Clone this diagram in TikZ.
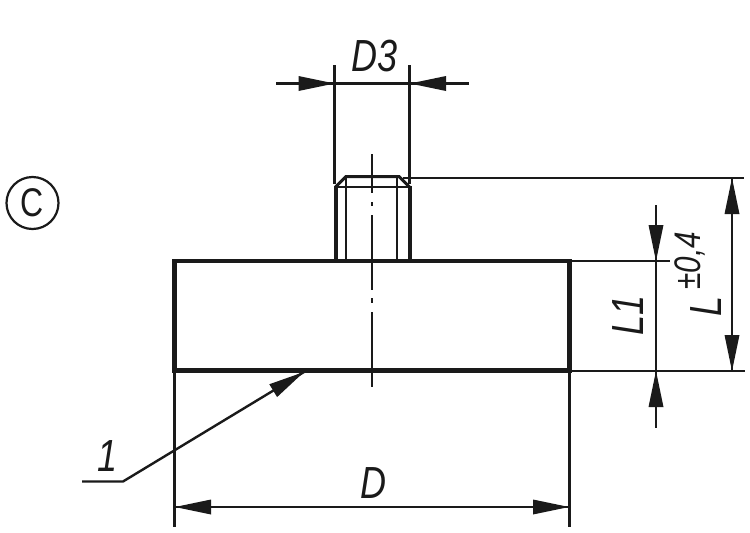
\documentclass[tikz,border=0pt]{standalone}
\usepackage{fontspec}
\setmainfont{Liberation Sans}
\newfontfamily\dimfont[FakeStretch=0.8]{Liberation Sans}
\definecolor{ink}{RGB}{26,26,26}
\tikzset{
  thick line/.style={ink,line width=4.6pt},
  thread line/.style={ink,line width=4pt},
  thin line/.style={ink,line width=2.4pt},
  dimtext/.style={inner sep=0pt,font=\dimfont\fontsize{45}{45}\selectfont\itshape,text=ink},
}
\newcommand{\dimarrow}[2]{%
  \fill[ink,shift={(#1)},rotate=#2] (0,0) -- (36,-7.5) -- (36,7.5) -- cycle;}
\begin{document}
\begin{tikzpicture}[x=1pt,y=-1pt]
\useasboundingbox (0,0) rectangle (750,533);
\coordinate (bodyTL) at (174.5,261);
\coordinate (bodyBR) at (569.5,370.5);
\coordinate (d3l) at (334.5,83.5);
\coordinate (d3r) at (410,83.5);
\coordinate (d3a) at (276,83.5);
\coordinate (d3b) at (469,83.5);
\coordinate (dl) at (175,507);
\coordinate (dr) at (569,507);
\coordinate (ltop) at (732,178);
\coordinate (lbot) at (732,371);
\coordinate (l1top) at (656,261);
\coordinate (l1bot) at (656,371);
\coordinate (l1a) at (656,205);
\coordinate (l1b) at (656,428);
\coordinate (leadA) at (82,481.5);
\coordinate (leadB) at (123,481.5);
\coordinate (leadTip) at (304,372);
% centre line
\draw[thin line] (372,154) -- (372,193) (372,202) -- (372,206) (372,215) -- (372,290)
  (372,298) -- (372,303) (372,312) -- (372,387);
% stud
\draw[thin line,line width=3pt] (335.5,187) -- (346,176.5) -- (399,176.5) -- (409.5,187);
\draw[thread line] (336,260) -- (336,186) (409.5,260) -- (409.5,186);
\draw[thin line] (335.5,187) -- (409.5,187);
\draw[thin line] (346,176.5) -- (346,260) (397,176.5) -- (397,260);
% body
\draw[thick line] (bodyTL) rectangle (bodyBR);
% extension lines
\draw[thin line] (334.5,65) -- (334.5,184) (409.5,65) -- (409.5,184);
\draw[thin line] (174.5,370) -- (174.5,527) (569.5,370) -- (569.5,527);
\draw[thin line] (403,178) -- (744,178);
\draw[thin line] (569,261) -- (670,261);
\draw[thin line] (569,371) -- (745,371);
% dimension lines
\draw[thin line] (d3a) -- (d3b);
\draw[thin line] (dl) -- (dr);
\draw[thin line] (ltop) -- (lbot);
\draw[thin line] (l1a) -- (l1b);
\draw[thin line] (leadA) -- (leadB) -- (leadTip);
% arrow heads
\dimarrow{d3l}{180}
\dimarrow{d3r}{0}
\dimarrow{dl}{0}
\dimarrow{dr}{180}
\dimarrow{ltop}{-90}
\dimarrow{lbot}{90}
\dimarrow{l1top}{90}
\dimarrow{l1bot}{-90}
\dimarrow{leadTip}{-148.8}
% labels
\node[dimtext] (tD3) at (374.5,56) {D3};
\node[dimtext] (tD) at (373,483) {D};
\node[dimtext,rotate=90] (tL1) at (628,315) {L1};
\node[dimtext,rotate=90] (tL) at (706,306) {L};
\node[inner sep=0pt,font=\dimfont\fontsize{37}{37}\selectfont\itshape,text=ink,rotate=90] (tTol) at (690,261) {±0,4};
\node[dimtext] (t1) at (108,456) {1};
\node[circle,draw=ink,line width=2.2pt,minimum size=52pt,inner sep=0pt,font=\dimfont\fontsize{40}{40}\selectfont,text=ink] (c) at (32.5,203) {C};
\end{tikzpicture}
\end{document}
